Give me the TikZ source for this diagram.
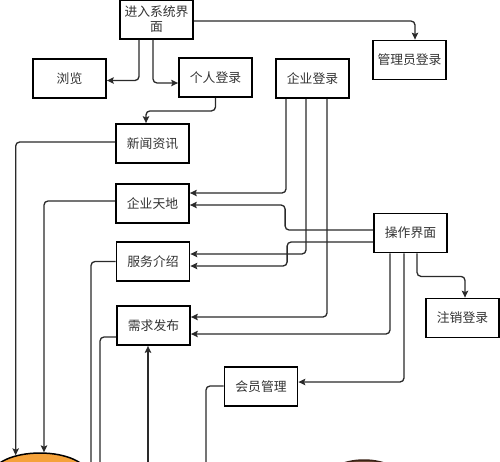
\documentclass[tikz,border=0pt]{standalone}
\usepackage{fontspec}
\newfontfamily\cjk{Noto Sans CJK SC}
\usetikzlibrary{arrows.meta,shapes.geometric}
\definecolor{lineclr}{HTML}{2A2A2A}
\definecolor{txtclr}{HTML}{333333}
\definecolor{orangefill}{HTML}{F5A23A}
\definecolor{brownline}{HTML}{3B2418}
\definecolor{brownfill}{HTML}{6B4A35}
\tikzset{
  box/.style={draw=black, line width=1.8pt, fill=white, minimum width=73pt, minimum height=39pt,
    inner sep=0pt, align=center, text=txtclr, font=\cjk\fontsize{12.8}{15}\selectfont},
  conn/.style={draw=lineclr, line width=1.3pt, rounded corners=4pt},
  arr/.style={conn, -{Stealth[length=7pt,width=6.5pt,inset=1.5pt]}},
}
\begin{document}
\begin{tikzpicture}[x=1pt,y=-1pt]
\useasboundingbox (0,0) rectangle (500,461);
\clip (0,0) rectangle (500,461);
\fill[white] (0,0) rectangle (500,461);

% ellipses at bottom
\node[ellipse, draw=black, line width=1.5pt, fill=orangefill, minimum width=96pt, minimum height=44pt] (e1) at (40,475) {};
\node[ellipse, draw=brownline, line width=1.5pt, fill=brownfill, minimum width=80pt, minimum height=44pt] (e2) at (364,482) {};

% free-end coordinates below the picture
\coordinate (sEnd) at (91,475);
\coordinate (dEnd) at (100,475);
\coordinate (dStart) at (148,475);
\coordinate (mEnd) at (206,475);

\node[box] (in) at (156.5,19.5) {进入系统界\\面};
\node[box] (browse) at (69.5,78.5) {浏览};
\node[box] (personal) at (215.5,77.5) {个人登录};
\node[box] (news) at (152.5,143.5) {新闻资讯};
\node[box] (ent) at (312.5,78.5) {企业登录};
\node[box] (admin) at (409.5,60) {管理员登录};
\node[box] (world) at (152.5,203.5) {企业天地};
\node[box] (service) at (153,261.5) {服务介绍};
\node[box] (demand) at (153.5,325.5) {需求发布};
\node[box] (op) at (410.5,233) {操作界面};
\node[box] (logout) at (462.5,318) {注销登录};
\node[box] (member) at (261,386.5) {会员管理};

% top connectors
\draw[arr] ([yshift=-1.5pt]in.east) -| ([xshift=5.5pt]admin.north);
\draw[arr] ([xshift=-17.5pt]in.south) |- ([yshift=-2pt]browse.east);
\draw[arr] ([xshift=-3.5pt]in.south) |- ([yshift=-5.5pt]personal.west);
\draw[arr] (personal.south) -- ++(0,13) -| ([xshift=-6.5pt]news.north);

% left connectors
\draw[arr] ([yshift=1.5pt]news.west) -| (e1.141);
\draw[arr] ([yshift=2.5pt]world.west) -| (e1.80);
\draw[conn] (service.west) -| (sEnd);
\draw[conn] ([yshift=-11.5pt]demand.west) -| (dEnd);
\draw[arr] (dStart) -- ([xshift=-5.5pt]demand.south);
\draw[conn] ([yshift=0.5pt]member.west) -| (mEnd);

% from 企业登录
\draw[arr] ([xshift=-26.5pt]ent.south) |- ([yshift=10.5pt]world.east);
\draw[arr] ([xshift=-6.5pt]ent.south) |- ([yshift=7.5pt]service.east);
\draw[arr] ([xshift=14.5pt]ent.south) |- ([yshift=8.5pt]demand.east);

% from 操作界面
\draw[arr] ([yshift=3pt]op.west) -- ++(-88,0) |- ([yshift=-1.5pt]world.east);
\draw[arr] ([yshift=-9pt]op.west) -- ++(-86,0) |- ([yshift=-4.5pt]service.east);
\draw[arr] ([xshift=-20.5pt]op.south) |- ([yshift=-8.5pt]demand.east);
\draw[arr] ([xshift=-6.5pt]op.south) |- ([yshift=4.5pt]member.east);
\draw[arr] ([xshift=6.5pt]op.south) -- ++(0,23) -| ([xshift=2.5pt]logout.north);
\end{tikzpicture}
\end{document}
